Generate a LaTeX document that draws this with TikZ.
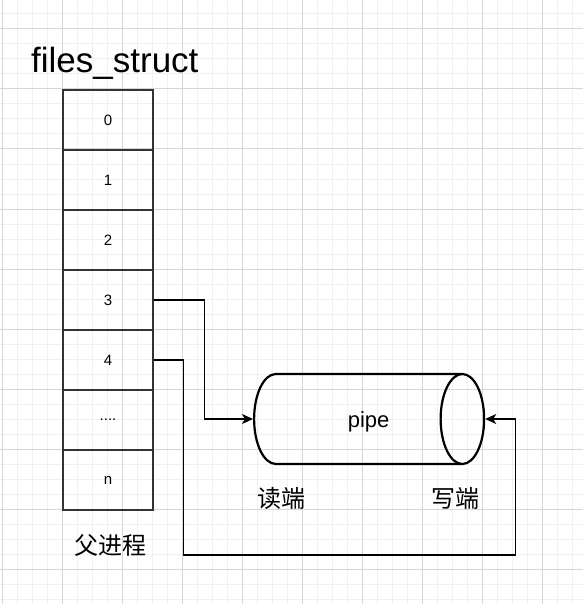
\documentclass[tikz,border=0pt]{standalone}
\usepackage{fontspec}
\setmainfont{Liberation Sans}
\newfontfamily\cjk{Noto Sans CJK SC}
\usetikzlibrary{shapes.geometric, arrows.meta, positioning}
\tikzstyle{cell} = [rectangle, minimum width=90pt, minimum height=60pt, text centered, draw=black!80, line width=1.3pt, font=\fontsize{15}{18}\selectfont]
\tikzstyle{tube} = [cylinder, minimum width=90pt, minimum height=230pt, aspect=1.6, draw=black, line width=2.2pt, font=\fontsize{22}{26}\selectfont]
\tikzstyle{cjklabel} = [font=\cjk\fontsize{24}{28}\selectfont, inner sep=0pt]
\tikzstyle{arrow} = [line width=1.3pt,->,>={Stealth[length=11pt,width=10pt,inset=3pt]}]
\tikzstyle{gridminor} = [draw=black!6, line width=1pt]
\tikzstyle{gridmajor} = [draw=black!16, line width=1pt]

\begin{document}
\begin{tikzpicture}[x=1pt, y=-1pt, node distance=60pt]
\useasboundingbox (0,0) rectangle (583,604);
\fill[white] (0,0) rectangle (583,604);
% background grid
\foreach \gx in {2.5,17.5,...,582.5} \draw[gridminor] (\gx,0) -- (\gx,604);
\foreach \gy in {14,29,...,599} \draw[gridminor] (0,\gy) -- (583,\gy);
\foreach \gx in {2.5,62.5,...,542.5} \draw[gridmajor] (\gx,0) -- (\gx,604);
\foreach \gy in {29,89,...,569} \draw[gridmajor] (0,\gy) -- (583,\gy);

\node (title) [anchor=base west, font=\fontsize{35}{40}\selectfont, inner sep=0pt] at (31,73) {files\_struct};
\node (c0) [cell] at (108,120) {0};
\node (c1) [cell, below of=c0] {1};
\node (c2) [cell, below of=c1] {2};
\node (c3) [cell, below of=c2] {3};
\node (c4) [cell, below of=c3] {4};
\node (cdots) [cell, below of=c4] {....};
\node (cn) [cell, below of=cdots] {n};
\node (parent) [cjklabel] at (110,545) {父进程};

\node (pipe) [tube, anchor=west] at (253,419) {\hspace*{30pt}\vphantom{pipe}\smash{\raisebox{-3pt}{pipe}}};
\node (rd) [cjklabel] at (281,498) {读端};
\node (wr) [cjklabel] at (455,498) {写端};

\draw [arrow] (c3.east) -- ++(51,0) |- (pipe.west);
\draw [arrow] (c4.east) -- ++(30,0) -- ++(0,195) -| ([xshift=30pt]pipe.east) -- (pipe.east);
\end{tikzpicture}
\end{document}
